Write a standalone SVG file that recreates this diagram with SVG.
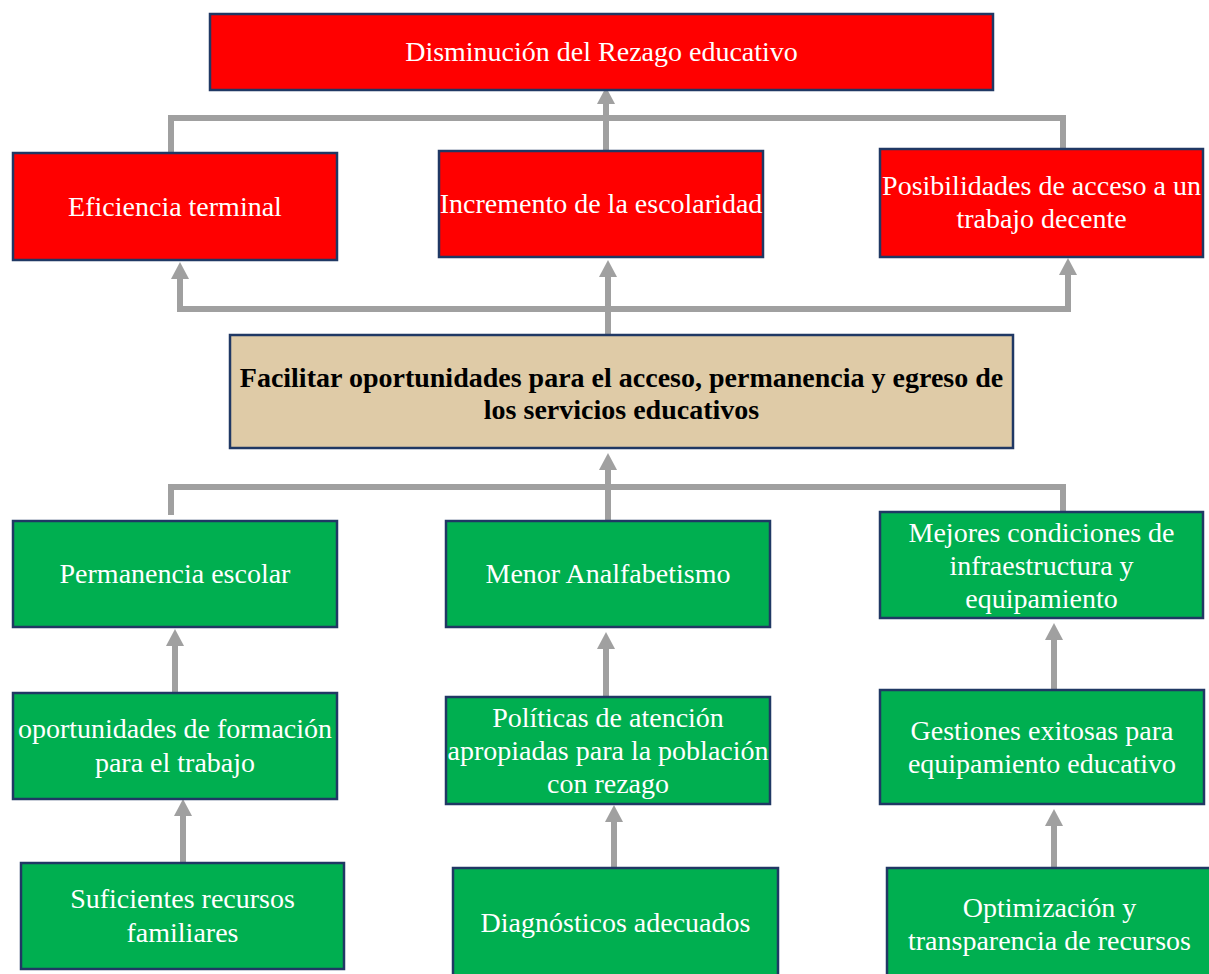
<svg xmlns="http://www.w3.org/2000/svg" width="1209" height="974" viewBox="0 0 1209 974">
<style>
.box{stroke:#203864;stroke-width:2.5}
.red{fill:#FF0000}
.green{fill:#00AF50}
.tan{fill:#DFCBA7}
.t{font-family:"Liberation Serif","Times New Roman",serif;font-size:28px;fill:#FFFFFF;text-anchor:middle}
.b{font-family:"Liberation Serif","Times New Roman",serif;font-size:28px;font-weight:bold;fill:#000000;text-anchor:middle}
.c{fill:none;stroke:#A0A0A0;stroke-width:6}
</style>
<defs>
<marker id="ah" markerUnits="userSpaceOnUse" markerWidth="17" markerHeight="18" refX="0" refY="9" orient="auto" viewBox="0 0 17 18">
<path d="M0,0 L17,9 L0,18 z" fill="#A0A0A0"/>
</marker>
</defs>
<rect width="1209" height="974" fill="#FFFFFF"/>
<g id="connectors">
<polyline class="c" points="171,152 171,118 1063,118 1063,150"/>
<line class="c" x1="606" y1="152" x2="606" y2="104" marker-end="url(#ah)"/>
<polyline class="c" points="180,279 180,309 1068,309 1068,275" marker-end="url(#ah)"/>
<line class="c" x1="180" y1="309" x2="180" y2="279" marker-end="url(#ah)"/>
<line class="c" x1="608" y1="336" x2="608" y2="277" marker-end="url(#ah)"/>
<polyline class="c" points="171,515 171,487 1063,487 1063,513"/>
<line class="c" x1="608" y1="520" x2="608" y2="470" marker-end="url(#ah)"/>
<line class="c" x1="175" y1="693" x2="175" y2="646" marker-end="url(#ah)"/>
<line class="c" x1="183" y1="863" x2="183" y2="816" marker-end="url(#ah)"/>
<line class="c" x1="606" y1="697" x2="606" y2="649" marker-end="url(#ah)"/>
<line class="c" x1="614" y1="868" x2="614" y2="822" marker-end="url(#ah)"/>
<line class="c" x1="1054" y1="690" x2="1054" y2="640" marker-end="url(#ah)"/>
<line class="c" x1="1054" y1="868" x2="1054" y2="826" marker-end="url(#ah)"/>
</g>
<g id="n-disminucion">
<rect class="box red" x="210" y="14" width="783" height="76"/>
<text class="t" x="601.5" y="61">Disminución del Rezago educativo</text>
</g>
<g id="n-eficiencia">
<rect class="box red" x="13" y="153" width="324" height="107"/>
<text class="t" x="175" y="216">Eficiencia terminal</text>
</g>
<g id="n-incremento">
<rect class="box red" x="439" y="151" width="324" height="106"/>
<text class="t" x="601" y="213">Incremento de la escolaridad</text>
</g>
<g id="n-posibilidades">
<rect class="box red" x="880" y="149" width="323" height="108"/>
<text class="t" x="1041.5" y="195">Posibilidades de acceso a un</text>
<text class="t" x="1041.5" y="228">trabajo decente</text>
</g>
<g id="n-facilitar">
<rect class="box tan" x="230" y="335" width="783" height="113"/>
<text class="b" x="621.5" y="387">Facilitar oportunidades para el acceso, permanencia y egreso de</text>
<text class="b" x="621.5" y="419">los servicios educativos</text>
</g>
<g id="n-permanencia">
<rect class="box green" x="13" y="521" width="324" height="106"/>
<text class="t" x="175" y="583">Permanencia escolar</text>
</g>
<g id="n-menor">
<rect class="box green" x="446" y="521" width="324" height="106"/>
<text class="t" x="608" y="583">Menor Analfabetismo</text>
</g>
<g id="n-mejores">
<rect class="box green" x="880" y="512" width="323" height="106"/>
<text class="t" x="1041.5" y="542">Mejores condiciones de</text>
<text class="t" x="1041.5" y="575">infraestructura y</text>
<text class="t" x="1041.5" y="608">equipamiento</text>
</g>
<g id="n-oportunidades">
<rect class="box green" x="13" y="693" width="324" height="106"/>
<text class="t" x="175" y="738">oportunidades de formación</text>
<text class="t" x="175" y="772">para el trabajo</text>
</g>
<g id="n-politicas">
<rect class="box green" x="446" y="697" width="324" height="107"/>
<text class="t" x="608" y="727">Políticas de atención</text>
<text class="t" x="608" y="760">apropiadas para la población</text>
<text class="t" x="608" y="793">con rezago</text>
</g>
<g id="n-gestiones">
<rect class="box green" x="880" y="690" width="324" height="114"/>
<text class="t" x="1042" y="740">Gestiones exitosas para</text>
<text class="t" x="1042" y="773">equipamiento educativo</text>
</g>
<g id="n-suficientes">
<rect class="box green" x="21" y="863" width="323" height="106"/>
<text class="t" x="182.5" y="908">Suficientes recursos</text>
<text class="t" x="182.5" y="942">familiares</text>
</g>
<g id="n-diagnosticos">
<rect class="box green" x="453" y="868" width="325" height="110"/>
<text class="t" x="615.5" y="932">Diagnósticos adecuados</text>
</g>
<g id="n-optimizacion">
<rect class="box green" x="887" y="868" width="326" height="110"/>
<text class="t" x="1049.5" y="917">Optimización y</text>
<text class="t" x="1049.5" y="950">transparencia de recursos</text>
</g>
</svg>
